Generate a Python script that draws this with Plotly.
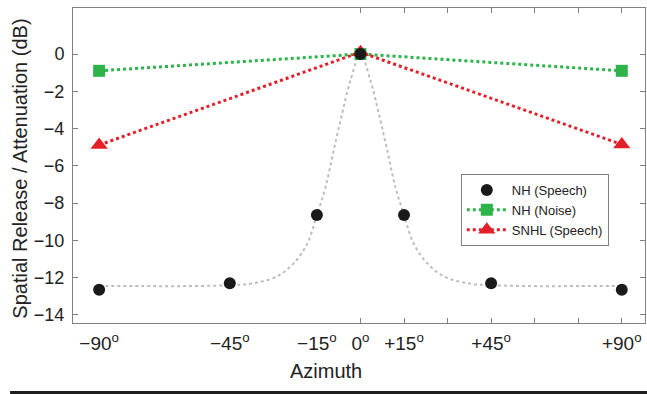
import plotly.graph_objects as go

# Data
azimuth = [-90, -45, -15, 0, 15, 45, 90]
nh_speech = [-12.65, -12.3, -8.64, 0.0, -8.64, -12.3, -12.65]

az3 = [-90, 0, 90]
nh_noise = [-0.9, 0.0, -0.9]
snhl_speech = [-4.88, 0.1, -4.85]

# fitted curve
fit_az = [-90, -75, -60, -45, -37, -29, -23, -18.3, -15, -12, -9.2, -6.3, -3.4, 0,
          3.4, 6.3, 9.2, 12, 15, 18.3, 23, 29, 37, 45, 60, 75, 90]
fit_val = [-12.45, -12.45, -12.45, -12.4, -12.3, -11.95, -11.23, -10.16, -8.64, -7.12, -5.15, -3.18, -1.39, 0.0,
           -1.39, -3.18, -5.15, -7.12, -8.64, -10.16, -11.23, -11.95, -12.3, -12.4, -12.45, -12.45, -12.45]

xtick_vals = [-90, -45, -15, 0, 15, 45, 90]
xtick_text = ["−90<sup>o</sup>", "−45<sup>o</sup>", "−15<sup>o</sup>", "0<sup>o</sup>",
              "+15<sup>o</sup>", "+45<sup>o</sup>", "+90<sup>o</sup>"]
xmark_vals = [0, 15, 30, 45, 60, 75, 90]
ytick_vals = [-14, -12, -10, -8, -6, -4, -2, 0]
ytick_text = ["−14", "−12", "−10", "−8", "−6", "−4", "−2", "0"]

GREEN = "#2db34a"
RED = "#e3202a"

fig = go.Figure()
fig.add_trace(go.Scatter(x=fit_az, y=fit_val, mode="lines", line=dict(color="#bdbdbd", width=2, dash="dot", shape="spline"),
                         showlegend=False, hoverinfo="skip"))
fig.add_trace(go.Scatter(x=az3, y=nh_noise, mode="lines+markers", name="NH (Noise)", legendrank=2,
                         line=dict(color=GREEN, width=3, dash="dot"),
                         marker=dict(symbol="square", size=12, color=GREEN)))
fig.add_trace(go.Scatter(x=az3, y=snhl_speech, mode="lines+markers", name="SNHL (Speech)", legendrank=3,
                         line=dict(color=RED, width=3, dash="dot"),
                         marker=dict(symbol="triangle-up", size=15, color=RED)))
fig.add_trace(go.Scatter(x=azimuth, y=nh_speech, mode="markers", name="NH (Speech)", legendrank=1,
                         marker=dict(symbol="circle", size=12, color="#1a1a1a")))

xaxis_font = dict(family="Liberation Sans, Arial, sans-serif", size=19, color="#222222")
yaxis_font = dict(family="Liberation Sans, Arial, sans-serif", size=18, color="#222222")

fig.update_layout(
    width=647, height=394,
    margin=dict(l=73, r=2, t=8, b=71),
    paper_bgcolor="white", plot_bgcolor="white",
    font=dict(family="Liberation Sans, Arial, sans-serif", color="#222222"),
    xaxis=dict(range=[-99, 98], tickvals=xmark_vals, ticktext=[""] * len(xmark_vals),
               ticks="inside", ticklen=5, tickcolor="#808080", showgrid=False, zeroline=False,
               showline=True, linecolor="#808080", linewidth=1, mirror="ticks"),
    xaxis2=dict(range=[-99, 98], overlaying="x", side="bottom", tickvals=xtick_vals, ticktext=xtick_text,
                ticks="", showgrid=False, zeroline=False, showline=False, tickfont=xaxis_font,
                ticklabelstandoff=7, anchor="y"),
    yaxis=dict(range=[-14.43, 2.47], tickvals=ytick_vals, ticktext=ytick_text, ticks="inside", ticklen=5,
               tickcolor="#808080", showgrid=False, zeroline=False, showline=True, linecolor="#808080",
               linewidth=1, mirror="ticks", tickfont=yaxis_font, ticklabelstandoff=4),
    legend=dict(x=0.678, y=0.473, xanchor="left", yanchor="top", bordercolor="#808080", borderwidth=1,
                bgcolor="white", font=dict(size=13, color="#222222"), itemwidth=40, tracegroupgap=0),
    showlegend=True,
    annotations=[
        dict(text="Azimuth", xref="paper", yref="paper", x=0.443, y=-0.152, showarrow=False,
             font=dict(size=20, color="#222222"), xanchor="center", yanchor="middle"),
        dict(text="Spatial Release / Attenuation (dB)", xref="paper", yref="paper", x=-0.0927, y=0.49,
             textangle=-90, showarrow=False, font=dict(size=20, color="#222222"),
             xanchor="center", yanchor="middle"),
    ],
    shapes=[dict(type="rect", xref="paper", yref="paper", x0=-0.11, x1=1.01, y0=-0.2159, y1=-0.26,
                 fillcolor="#1e1e1e", line=dict(width=0), layer="above")],
)
# invisible trace on xaxis2 so its labels render
fig.add_trace(go.Scatter(x=[0], y=[0], xaxis="x2", mode="markers", marker=dict(opacity=0), showlegend=False,
                         hoverinfo="skip"))

fig.write_html("out.html")
